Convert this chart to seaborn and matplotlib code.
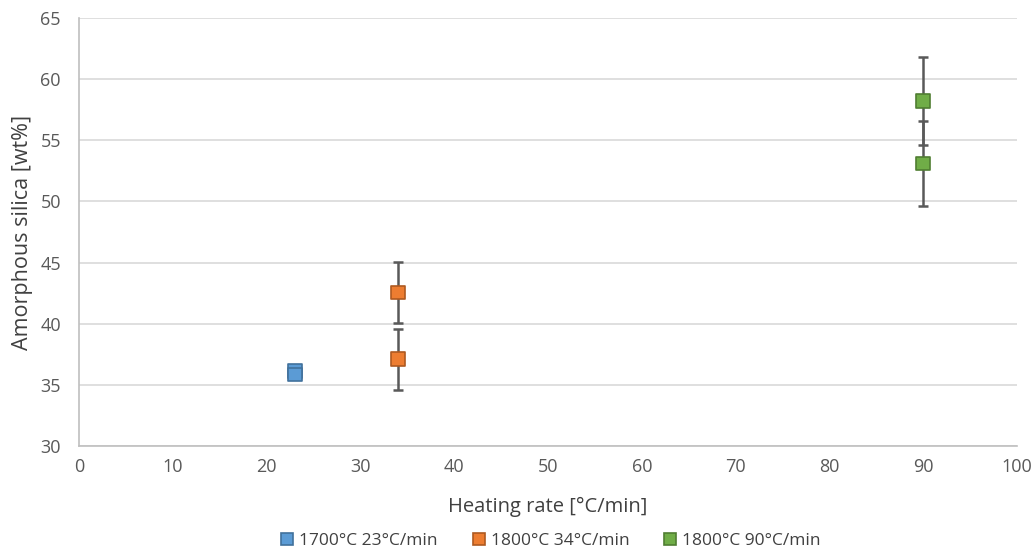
import matplotlib
matplotlib.use("Agg")
import matplotlib.pyplot as plt
from matplotlib.lines import Line2D
import seaborn as sns
import pandas as pd

# Data
series = ["1700°C 23°C/min", "1700°C 23°C/min",
          "1800°C 34°C/min", "1800°C 34°C/min",
          "1800°C 90°C/min", "1800°C 90°C/min"]
heating_rate = [23, 23, 34, 34, 90, 90]
amorphous_silica = [36.1, 35.85, 42.55, 37.1, 58.2, 53.1]
error = [0.0, 0.0, 2.5, 2.5, 3.6, 3.5]
x_ticks = list(range(0, 101, 10))
y_ticks = list(range(30, 66, 5))

palette = {"1700°C 23°C/min": "#5B9BD5", "1800°C 34°C/min": "#ED7D31", "1800°C 90°C/min": "#70AD47"}
edges = {"1700°C 23°C/min": "#41719C", "1800°C 34°C/min": "#AE5A21", "1800°C 90°C/min": "#507E32"}

df = pd.DataFrame({"series": series, "x": heating_rate, "y": amorphous_silica, "err": error})

sns.set_style("white")
plt.rcParams["font.family"] = ["Open Sans", "DejaVu Sans"]

fig = plt.figure(figsize=(10.35, 5.54), dpi=100)
ax = fig.add_axes([79/1035, 1 - 446/554, (1017-79)/1035, (446-18)/554])

# error bars
ax.errorbar(df["x"], df["y"], yerr=df["err"], fmt="none", ecolor="#595959",
            elinewidth=1.8, capsize=3.5, capthick=1.8, zorder=2)

sns.scatterplot(data=df, x="x", y="y", hue="series", palette=palette, marker="s",
                s=100, linewidth=1.2, ax=ax, zorder=3, legend=False)
coll = ax.collections[-1]
coll.set_edgecolors([edges[s] for s in df["series"]])

ax.set_xlim(0, 100)
ax.set_ylim(30, 65)
ax.set_xticks(x_ticks)
ax.set_yticks(y_ticks)
ax.tick_params(axis="both", labelsize=13, colors="#595959", length=0)
ax.tick_params(axis="x", pad=9)
ax.tick_params(axis="y", pad=13)
ax.yaxis.grid(True, color="#D9D9D9", linewidth=1.2)
ax.xaxis.grid(False)
for s in ["right", "top"]:
    ax.spines[s].set_visible(False)
for s in ["bottom", "left"]:
    ax.spines[s].set_color("#BFBFBF")
    ax.spines[s].set_linewidth(1.2)
ax.set_axisbelow(True)

ax.set_xlabel("Heating rate [°C/min]", fontsize=14.5, color="#404040", labelpad=15)
ax.set_ylabel("Amorphous silica [wt%]", fontsize=15.5, color="#404040", labelpad=5)

handles = [Line2D([], [], marker="s", linestyle="none", markersize=9,
                  markerfacecolor=palette[k], markeredgecolor=edges[k], markeredgewidth=1.2)
           for k in palette]
fig.legend(handles, list(palette.keys()), loc="center", bbox_to_anchor=(0.532, 1 - 541/554),
           ncol=3, frameon=False, fontsize=12.5, handlelength=0.8, handletextpad=0.3,
           columnspacing=1.95, labelcolor="#404040")

fig.savefig("out.png", dpi=100)
